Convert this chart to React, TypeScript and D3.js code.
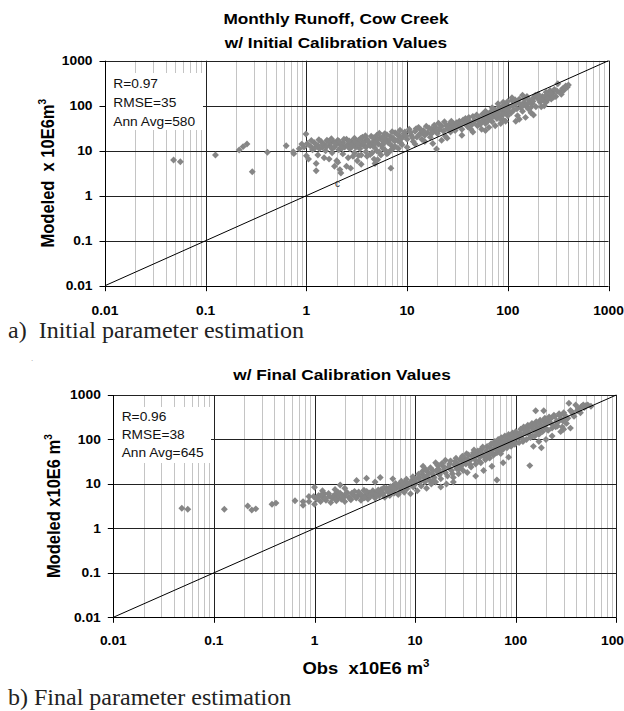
// d3 for scales, symbols and drawing
import * as d3 from "d3";
import { useRef, useEffect } from "react";

// decade ticks on both log axes
const decadeTicks = [0.01, 0.1, 1, 10, 100, 1000];
const decadeLabels = ["0.01", "0.1", "1", "10", "100", "1000"];

// fit statistics shown in the corner boxes
const statsInitial = ["R=0.97", "RMSE=35", "Ann Avg=580"];
const statsFinal = ["R=0.96", "RMSE=38", "Ann Avg=645"];

// monthly runoff [observed, modeled], x10E6 m3 - initial calibration
const initialRuns: [number, number][] = [
  [0.048, 6.2], [0.056, 5.7], [0.125, 8.0], [0.215, 10.4], [0.235, 12.3], [0.257, 14.1],
  [0.29, 3.4], [0.41, 9.2], [0.63, 12.9], [0.74, 9.5], [0.75, 8.6], [0.99, 23.5],
  [0.95, 12.0], [1.0, 7.7], [1.05, 6.5], [1.25, 5.2], [1.25, 3.6], [1.68, 6.5],
  [2.15, 3.8], [2.2, 3.2], [2.75, 4.1], [4.8, 5.2], [5.1, 6.3], [6.9, 4.1], [19.6, 10.9],
  [0.85, 11], [0.9, 14], [1.1, 12.5], [1.15, 10.5], [1.2, 15], [1.3, 13], [1.35, 11],
  [1.4, 16], [1.45, 12], [1.5, 14], [1.55, 10], [1.6, 17], [1.7, 13], [1.75, 15],
  [1.8, 11], [1.85, 16], [1.9, 12], [2.0, 14], [2.05, 17], [2.1, 10.5], [2.2, 13],
  [2.3, 15], [2.4, 12], [2.5, 18], [2.6, 14], [2.7, 11], [2.8, 16], [2.9, 13],
  [3.0, 19], [3.1, 12], [3.2, 15], [3.3, 17], [3.4, 11], [3.5, 14], [3.6, 20],
  [3.7, 13], [3.8, 16], [3.9, 12], [4.0, 18], [4.2, 14], [4.4, 21], [4.5, 15],
  [4.7, 12], [4.9, 17], [5.0, 22], [5.2, 14], [5.4, 19], [5.6, 13], [5.8, 16],
  [6.0, 24], [6.2, 18], [6.5, 15], [6.8, 21], [7.0, 13], [7.3, 19], [7.6, 25],
  [8.0, 17], [8.3, 22], [8.6, 15], [9.0, 20],
  [1.3, 8], [1.5, 7], [1.8, 9], [2.0, 6], [2.3, 8.5], [2.6, 7], [3.0, 9], [3.2, 6],
  [3.5, 8], [4.0, 7.5], [4.5, 9], [5.0, 10], [5.5, 8], [6.0, 10.5], [6.5, 9],
  [7.2, 11], [2.05, 5.5], [3.5, 5], [1.9, 4.5],
  [9.5, 26], [10, 18], [10.5, 30], [11, 22], [11.5, 16], [12, 27], [12.5, 20],
  [13, 33], [13.5, 24], [14, 18], [14.5, 28], [15, 22], [15.5, 35], [16, 25],
  [17, 20], [17.5, 30], [18, 26], [19, 33], [20, 24], [21, 29], [22, 36], [23, 27],
  [24, 21], [25, 31], [26, 38], [27, 26], [28, 33], [29, 40], [30, 28],
  [10, 12], [12, 14], [15, 16], [18, 14.5], [22, 17], [25, 19],
  [32, 35], [33, 45], [35, 30], [37, 40], [38, 52], [40, 34], [42, 44], [44, 38],
  [45, 58], [47, 48], [50, 36], [52, 55], [54, 42], [56, 65], [58, 48], [60, 40],
  [62, 60], [65, 50], [67, 72], [70, 44], [72, 58], [75, 80], [78, 52], [80, 66],
  [82, 95], [85, 60], [88, 75], [90, 48], [92, 105], [95, 70], [98, 85], [100, 60],
  [35, 22], [45, 26], [55, 30], [65, 33], [75, 36], [85, 40], [95, 45], [60, 28],
  [60, 75], [70, 90], [80, 110], [90, 120], [100, 125],
  [105, 95], [108, 70], [110, 130], [115, 80], [120, 110], [125, 60], [130, 140],
  [135, 90], [140, 75], [145, 120], [150, 100], [155, 160], [160, 85], [165, 130],
  [170, 70], [175, 110], [180, 150], [190, 95], [200, 180], [210, 120], [220, 160],
  [230, 100], [240, 200], [245, 130], [255, 170], [263, 217], [270, 140], [280, 190],
  [290, 230], [300, 160], [314, 307], [330, 200], [350, 240], [376, 274], [390, 260],
  [400, 290], [360, 220], [240, 120], [200, 140], [150, 55], [130, 50], [180, 62],
  [120, 45], [110, 150], [140, 170],
  [1.02, 14.5], [1.12, 16.8], [1.22, 11.6], [1.33, 17.5], [1.47, 13.7], [1.58, 12.2],
  [1.66, 15.8], [1.77, 18.4], [1.93, 14.9], [2.12, 16.1], [2.26, 11.4], [2.36, 17.9],
  [2.55, 13.3], [2.66, 16.4], [2.85, 12.6], [3.05, 15.7], [3.25, 13.8], [3.45, 18.6],
  [3.66, 15.2], [3.85, 21.5], [4.1, 16.3], [4.3, 12.8], [4.6, 19.4], [4.8, 14.2],
  [5.1, 17.3], [5.3, 24.5], [5.7, 20.2], [5.9, 14.8], [6.3, 22.6], [6.7, 17.2],
  [7.1, 26.5], [7.5, 16.5], [7.9, 23.4], [8.5, 28.5], [8.8, 18.8], [9.3, 24.2], [9.8, 21.3],
  [10.8, 25.5], [11.3, 19.5], [12.3, 31], [13.2, 22.5], [13.8, 28.5], [14.8, 24.5],
  [16.5, 32], [17.3, 23.5], [18.6, 37], [19.5, 28], [20.5, 41], [21.5, 33], [23.5, 44],
  [24.5, 36], [26.5, 30], [27.5, 45], [29.5, 35], [31, 42], [34, 38], [36, 48], [39, 44],
  [41, 55], [43, 30], [46, 41], [49, 62], [51, 46], [53, 38], [57, 52], [59, 70],
  [63, 45], [66, 62], [69, 55], [73, 68], [77, 62], [81, 78], [84, 52], [87, 90],
  [91, 65], [94, 82], [97, 100], [102, 75], [112, 100], [118, 135], [123, 85], [128, 115],
  [138, 100], [148, 140], [158, 110], [168, 90], [178, 125], [188, 170], [205, 150],
  [215, 95], [225, 135], [235, 165], [250, 145], [265, 185], [285, 155], [310, 210],
  [340, 180], [370, 250],
  [2.5, 4.5], [2.9, 7.5], [3.3, 7.8], [3.9, 9.5], [4.3, 8.2], [4.7, 6.5], [5.3, 9.2],
  [5.7, 11.5], [6.3, 8.5], [6.9, 10.2], [7.6, 12.5], [8.2, 11.2], [8.9, 13.5],
];

// monthly runoff [observed, modeled], x10E6 m3 - final calibration
const finalRuns: [number, number][] = [
  [0.048, 2.84], [0.055, 2.7], [0.127, 2.7], [0.217, 3.2], [0.238, 2.6], [0.261, 2.75],
  [0.378, 3.5], [0.414, 3.7], [0.64, 4.2], [0.77, 4.0], [0.77, 3.3], [0.88, 5.2],
  [0.88, 4.0], [1.0, 8.4], [0.98, 5.2], [1.0, 3.5], [2.62, 11.9], [3.29, 13.4],
  [1.05, 4.5], [1.1, 5.5], [1.15, 4.0], [1.2, 5.0], [1.25, 6.0], [1.3, 4.3], [1.4, 5.3],
  [1.45, 3.8], [1.5, 4.8], [1.6, 5.8], [1.65, 4.2], [1.7, 5.1], [1.8, 6.2], [1.85, 4.5],
  [1.9, 5.5], [2.0, 4.0], [2.1, 6.5], [2.2, 5.0], [2.3, 4.4], [2.4, 5.8], [2.5, 6.8],
  [2.6, 4.8], [2.7, 5.4], [2.8, 6.0], [2.9, 4.3], [3.0, 5.1], [3.1, 7.2], [3.2, 5.6],
  [3.4, 4.6], [3.5, 6.3], [3.6, 5.2], [3.8, 7.0], [3.9, 5.8], [4.0, 4.8], [4.2, 6.5],
  [4.4, 5.4], [4.6, 7.5], [4.8, 6.0], [5.0, 5.0], [5.2, 8.0], [5.4, 6.6], [5.6, 5.5],
  [5.8, 7.2], [6.0, 9.0], [6.2, 6.2], [6.5, 8.0], [6.8, 5.8], [7.0, 10], [7.2, 7.0],
  [7.5, 8.8], [7.8, 6.5], [8.0, 11], [8.3, 7.8], [8.6, 9.5], [9.0, 6.0], [9.3, 12],
  [9.6, 8.5], [1.2, 7.0], [1.6, 7.5], [2.0, 8.0], [1.8, 9.5], [4.0, 11], [4.5, 14],
  [6.0, 13],
  [10, 10], [10.5, 7], [11, 14], [11.5, 9], [12, 16], [12.5, 11], [13, 8], [13.5, 18],
  [14, 12], [14.5, 10], [15, 20], [15.5, 14], [16, 11], [17, 22], [17.5, 16], [18, 13],
  [19, 25], [20, 18], [20.5, 10], [21, 15], [22, 28], [23, 20], [24, 14], [25, 32],
  [26, 22], [27, 17], [28, 35], [29, 26], [30, 20], [12, 25], [16, 30], [20, 34],
  [24, 11], [18, 8.5],
  [31, 38], [32, 28], [33, 18], [34, 45], [35, 33], [36, 24], [38, 50], [39, 36],
  [40, 28], [42, 55], [44, 40], [45, 30], [46, 62], [48, 45], [50, 35], [52, 70],
  [54, 50], [55, 38], [57, 80], [58, 58], [60, 44], [62, 90], [63, 65], [65, 50],
  [67, 100], [68, 72], [70, 55], [72, 110], [74, 80], [75, 60], [78, 120], [80, 88],
  [82, 65], [85, 130], [88, 95], [90, 70], [93, 140], [95, 105], [98, 78], [100, 150],
  [65, 12.3], [48, 20], [58, 25], [75, 30], [85, 40], [40, 15],
  [105, 110], [108, 85], [112, 170], [115, 125], [118, 90], [120, 190], [125, 140],
  [128, 100], [132, 210], [135, 150], [138, 25.8], [140, 110], [145, 230], [150, 165],
  [155, 120], [158, 444], [160, 250], [165, 180], [170, 130], [175, 270], [180, 200],
  [185, 150], [190, 444], [195, 300], [200, 220], [210, 160], [215, 320], [220, 240],
  [230, 180], [240, 350], [250, 194], [255, 260], [260, 200], [270, 380], [280, 290],
  [290, 190], [300, 400], [310, 300], [320, 230], [338, 650], [350, 450], [370, 380],
  [395, 596], [420, 500], [450, 550], [480, 520], [500, 580], [280, 150], [230, 120],
  [200, 100], [170, 90], [150, 70], [180, 65], [250, 200], [350, 180], [300, 170],
  [520, 600], [560, 560],
  [1.08, 4.9], [1.18, 5.8], [1.28, 4.7], [1.38, 6.1], [1.52, 5.2], [1.62, 4.5],
  [1.72, 6.4], [1.95, 5.0], [2.05, 5.9], [2.25, 4.7], [2.35, 6.2], [2.55, 5.1],
  [2.75, 6.6], [2.95, 5.6], [3.15, 4.9], [3.3, 6.8], [3.55, 5.4], [3.75, 6.1],
  [4.1, 5.6], [4.3, 7.3], [4.7, 6.4], [4.9, 8.2], [5.3, 7.0], [5.7, 8.6], [6.1, 7.5],
  [6.4, 10.2], [6.9, 8.7], [7.3, 11.5], [7.7, 9.6], [8.2, 12.8], [8.8, 10.5], [9.5, 14.5],
  [9.8, 11], [10.2, 13], [10.8, 16.5], [11.2, 11.5], [11.8, 19], [12.2, 13.8], [12.8, 21],
  [13.2, 15.5], [13.8, 12.5], [14.2, 23], [14.8, 17], [15.3, 12], [16.3, 19.5], [16.8, 26],
  [17.8, 18], [18.5, 29], [19.5, 21], [21.5, 24], [22.5, 33], [23.5, 17], [24.5, 27],
  [25.5, 38], [26.5, 28], [27.5, 22], [29.5, 42], [30.5, 31], [32.5, 48], [33.5, 36],
  [35.5, 27], [37, 42], [38.5, 58], [41, 46], [43, 33], [45, 52], [47, 68], [49, 40],
  [51, 56], [53, 43], [56, 64], [59, 48], [61, 75], [64, 58], [66, 85], [69, 63],
  [71, 48], [73, 92], [76, 70], [79, 100], [83, 76], [86, 110], [89, 84], [92, 125],
  [96, 92], [99, 115], [103, 130], [110, 140], [116, 105], [122, 160], [130, 175],
  [136, 130], [142, 195], [148, 120], [156, 210], [162, 150], [172, 230], [178, 160],
  [188, 260], [198, 180], [205, 280], [225, 300], [235, 210], [245, 330], [265, 250],
  [275, 340], [295, 260], [305, 360], [330, 300], [360, 420], [380, 330], [410, 450],
  [440, 400], [470, 600],
];

const sans = "'Liberation Sans', Arial, Helvetica, sans-serif";
const serif = "'Liberation Serif', 'Times New Roman', serif";
const stretch = 1.15; // the chart picture is a bit wider than its fonts

// layout of each panel in page pixels
const panels = [
  {
    data: initialRuns,
    stats: statsInitial,
    left: 105, right: 608.5, top: 60.7, bottom: 285.7,
    titles: [["Monthly Runoff, Cow Creek", 23.5], ["w/ Initial Calibration Values", 47.5]],
    titleX: 336,
    yTitle: "Modeled  x 10E6m", yTitleX: 54,
    box: [105, 203, 73, 130], statsX: 113.3, statsY: [87.8, 107.2, 125.5],
    xLabelY: 314.5,
  },
  {
    data: finalRuns,
    stats: statsFinal,
    left: 113.3, right: 616.3, top: 395, bottom: 617.3,
    titles: [["w/ Final Calibration Values", 380]],
    titleX: 342,
    yTitle: "Modeled x10E6 m", yTitleX: 60,
    box: [113.3, 211, 407, 463], statsX: 121.7, statsY: [420.5, 438.8, 456.5],
    xLabelY: 644.5,
  },
];

const crisp = (v: number) => Math.round(v) + 0.5;

function drawPanel(svg: any, p: any) {
  const x = d3.scaleLog().domain([0.01, 1000]).range([p.left, p.right]);
  const y = d3.scaleLog().domain([0.01, 1000]).range([p.bottom, p.top]);
  const g = svg.append("g");

  // minor vertical gridlines 2..9 in each decade
  const minor: number[] = [];
  decadeTicks.slice(0, -1).forEach((d) => {
    for (let k = 2; k <= 9; k++) minor.push(d * k);
  });
  g.selectAll(".minor").data(minor).join("line")
    .attr("x1", (d: number) => crisp(x(d))).attr("x2", (d: number) => crisp(x(d)))
    .attr("y1", p.top).attr("y2", p.bottom)
    .attr("stroke", "#c4c4c4").attr("stroke-width", 1);

  // major gridlines
  g.selectAll(".vmajor").data(decadeTicks.slice(1)).join("line")
    .attr("x1", (d: number) => crisp(x(d))).attr("x2", (d: number) => crisp(x(d)))
    .attr("y1", p.top).attr("y2", p.bottom)
    .attr("stroke", "#222").attr("stroke-width", 1);
  g.selectAll(".hmajor").data(decadeTicks.slice(1)).join("line")
    .attr("x1", p.left).attr("x2", p.right)
    .attr("y1", (d: number) => crisp(y(d))).attr("y2", (d: number) => crisp(y(d)))
    .attr("stroke", "#222").attr("stroke-width", 1);

  // white box behind the statistics
  const [bx0, bx1, by0, by1] = p.box;
  g.append("rect").attr("x", bx0 + 1).attr("y", by0).attr("width", bx1 - bx0 - 1)
    .attr("height", by1 - by0).attr("fill", "#fff");
  p.stats.forEach((s: string, i: number) => {
    g.append("text")
      .attr("transform", `translate(${p.statsX},${p.statsY[i]}) scale(1.1,1)`)
      .attr("font-family", sans).attr("font-size", 12.5).attr("fill", "#111")
      .text(s);
  });

  // scatter points as grey diamonds
  const diamond = d3.symbol().type(d3.symbolSquare).size(24)();
  g.selectAll(".pt").data(p.data).join("path")
    .attr("d", diamond)
    .attr("transform", (d: [number, number]) => `translate(${x(d[0])},${y(d[1])}) rotate(45)`)
    .attr("fill", "#868686");

  // 1:1 line
  g.append("line")
    .attr("x1", x(0.01)).attr("y1", y(0.01)).attr("x2", x(1000)).attr("y2", y(1000))
    .attr("stroke", "#000").attr("stroke-width", 1);

  // axes
  g.append("line").attr("x1", crisp(p.left)).attr("x2", crisp(p.left))
    .attr("y1", p.top).attr("y2", p.bottom + 0.5).attr("stroke", "#000");
  g.append("line").attr("x1", p.left).attr("x2", p.right)
    .attr("y1", crisp(p.bottom)).attr("y2", crisp(p.bottom)).attr("stroke", "#000");

  // tick marks
  g.selectAll(".ytick").data(decadeTicks).join("line")
    .attr("x1", p.left - 5.5).attr("x2", p.left)
    .attr("y1", (d: number) => crisp(y(d))).attr("y2", (d: number) => crisp(y(d)))
    .attr("stroke", "#000");
  g.selectAll(".xtick").data(decadeTicks).join("line")
    .attr("x1", (d: number) => crisp(x(d))).attr("x2", (d: number) => crisp(x(d)))
    .attr("y1", p.bottom).attr("y2", p.bottom + 5.5)
    .attr("stroke", "#000");

  // tick labels
  g.selectAll(".ylab").data(decadeTicks).join("text")
    .attr("transform", (d: number) => `translate(${p.left - 12.5},${y(d) + 4.3}) scale(${stretch},1)`)
    .attr("text-anchor", "end")
    .attr("font-family", sans).attr("font-size", 12).attr("font-weight", "bold")
    .text((d: number, i: number) => decadeLabels[i]);
  g.selectAll(".xlab").data(decadeTicks).join("text")
    .attr("transform", (d: number) => `translate(${x(d)},${p.xLabelY}) scale(${stretch},1)`)
    .attr("text-anchor", "middle")
    .attr("font-family", sans).attr("font-size", 12).attr("font-weight", "bold")
    .text((d: number, i: number) => decadeLabels[i]);

  // titles
  p.titles.forEach(([t, ty]: [string, number]) => {
    g.append("text")
      .attr("transform", `translate(${p.titleX},${ty}) scale(${stretch},1)`)
      .attr("text-anchor", "middle")
      .attr("font-family", sans).attr("font-size", 15).attr("font-weight", "bold")
      .text(t);
  });

  // y axis title with superscript
  const yt = g.append("text")
    .attr("transform", `translate(${p.yTitleX},${(p.top + p.bottom) / 2}) scale(${stretch},1) rotate(-90)`)
    .attr("text-anchor", "middle")
    .attr("font-family", sans).attr("font-size", 16.5).attr("font-weight", "bold")
    .style("white-space", "pre");
  yt.append("tspan").text(p.yTitle);
  yt.append("tspan").attr("dy", -7).attr("font-size", 10).text("3");
}

export default function App() {
  const svgRef = useRef<SVGSVGElement>(null);

  useEffect(() => {
    const svg = d3.select(svgRef.current);
    svg.selectAll("*").remove();

    panels.forEach((p) => drawPanel(svg, p));

    // x axis title under the lower panel
    const xt = svg.append("text")
      .attr("transform", `translate(366,674) scale(${stretch},1)`)
      .attr("text-anchor", "middle")
      .attr("font-family", sans).attr("font-size", 16).attr("font-weight", "bold")
      .style("white-space", "pre");
    xt.append("tspan").text("Obs  x10E6 m");
    xt.append("tspan").attr("dy", -7).attr("font-size", 10).text("3");

    // captions
    svg.append("text").attr("x", 8).attr("y", 338)
      .attr("font-family", serif).attr("font-size", 24).attr("fill", "#222")
      .style("white-space", "pre").text("a)  Initial parameter estimation");
    svg.append("text").attr("x", 8).attr("y", 705)
      .attr("font-family", serif).attr("font-size", 24).attr("fill", "#222")
      .text("b) Final parameter estimation");

    // stray marks in the scanned figure
    svg.append("text").attr("x", 335).attr("y", 187)
      .attr("font-family", sans).attr("font-size", 10).attr("fill", "#333").text("c");
    svg.append("text").attr("x", 31).attr("y", 361)
      .attr("font-family", sans).attr("font-size", 8).attr("fill", "#999").text(".");
  }, []);

  return (
    <svg
      ref={svgRef}
      width={624}
      height={711}
      style={{ position: "absolute", left: 0, top: 0, background: "#fff" }}
    />
  );
}
